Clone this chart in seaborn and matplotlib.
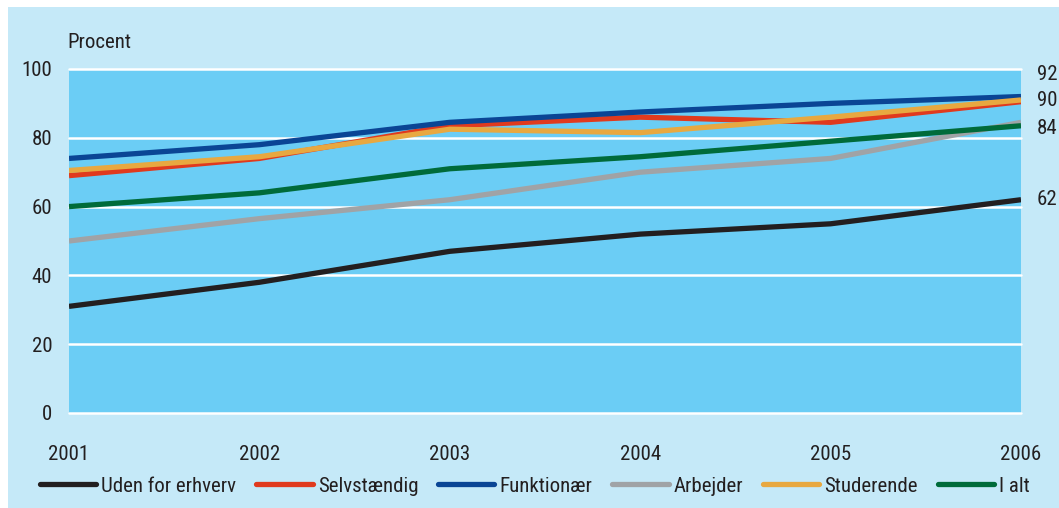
import matplotlib
matplotlib.use("Agg")
import matplotlib.pyplot as plt
from matplotlib import font_manager
from matplotlib.lines import Line2D
from matplotlib.patches import Rectangle
import seaborn as sns
import pandas as pd

# ---- data ----
years = [2001, 2002, 2003, 2004, 2005, 2006]
series_names = ["Uden for erhverv", "Selvstændig", "Funktionær", "Arbejder", "Studerende", "I alt"]
uden = [31, 38, 47, 52, 55, 62]
selvst = [69, 74, 83.5, 86, 84.5, 90.5]
funkt = [74, 78, 84.5, 87.5, 90, 92]
arbejder = [50, 56.5, 62, 70, 74, 84.5]
studerende = [70.5, 74.5, 82.5, 81.5, 86, 91]
ialt = [60, 64, 71, 74.5, 79, 83.5]
end_labels = ["92", "90", "84", "62"]
yticks = [0, 20, 40, 60, 80, 100]
ylabel_text = "Procent"

# ---- style ----
colors = ["#231F20", "#E03A1E", "#0A4595", "#A0A3A6", "#E8A840", "#006B3A"]
end_label_values = [92, 90, 84, 62]
end_label_offsets = [15.5, 1.8, -3.0, 0.0]  # points

sns.set_theme(style="white")
avail = {f.name for f in font_manager.fontManager.ttflist}
font = "DejaVu Sans"
for cand in ["Liberation Sans Narrow", "DejaVu Sans Condensed", "Roboto Condensed", "Open Sans Condensed", "Roboto"]:
    if cand in avail:
        font = cand
        break
plt.rcParams["font.family"] = [font, "DejaVu Sans"]
txt_color = "#231F20"
fs = 15

df = pd.DataFrame({
    "year": years * 6,
    "value": uden + selvst + funkt + arbejder + studerende + ialt,
    "series": sum([[n] * len(years) for n in series_names], []),
})

fig = plt.figure(figsize=(10.59, 5.08), dpi=100)
fig.patch.set_facecolor("white")
fig.patches.append(Rectangle((8 / 1059, 0), 1 - 8 / 1059, 1 - 7 / 508, transform=fig.transFigure,
                             facecolor="#C5E9F8", edgecolor="none", zorder=-10))
ax = fig.add_axes([69 / 1059, 1 - 413 / 508, (1021 - 69) / 1059, (413 - 69) / 508])
ax.set_facecolor("#6BCDF5")

sns.lineplot(data=df, x="year", y="value", hue="series", hue_order=series_names,
             palette=colors, linewidth=3.8, ax=ax, legend=False, sort=False)
for ln in ax.lines:
    ln.set_solid_capstyle("butt")
    ln.set_solid_joinstyle("round")
    ln.set_zorder(3)

ax.set_xlim(years[0], years[-1])
ax.set_ylim(0, 100)
ax.set_xticks(years)
ax.set_xticklabels([str(y) for y in years])
ax.set_yticks(yticks)
ax.set_xlabel("")
ax.set_ylabel("")
for s in ax.spines.values():
    s.set_visible(False)
for y in yticks:
    ax.axhline(y, color="white", linewidth=1.8, zorder=2, clip_on=False)
ax.tick_params(axis="both", length=0, labelsize=fs, colors=txt_color)
ax.tick_params(axis="x", pad=23)
ax.tick_params(axis="y", pad=12)

fig.text(67 / 1059, 1 - 42 / 508, ylabel_text, fontsize=fs, color=txt_color, va="center", ha="left")

for lab, val, off in zip(end_labels, end_label_values, end_label_offsets):
    ax.annotate(lab, xy=(years[-1], val), xytext=(11.5, off), textcoords="offset points",
                fontsize=fs, color=txt_color, va="center", ha="left", annotation_clip=False)

handles = [Line2D([0], [0], color=c, linewidth=3.8, solid_capstyle="round") for c in colors]
leg = fig.legend(handles, series_names, loc="center left", bbox_to_anchor=(40 / 1059, 1 - 486 / 508),
                 ncol=6, frameon=False, fontsize=fs, handlelength=2.7, handletextpad=0.25,
                 columnspacing=0.95, borderpad=0, borderaxespad=0)
for t in leg.get_texts():
    t.set_color(txt_color)

fig.savefig("out.png", dpi=100, facecolor=fig.get_facecolor())
